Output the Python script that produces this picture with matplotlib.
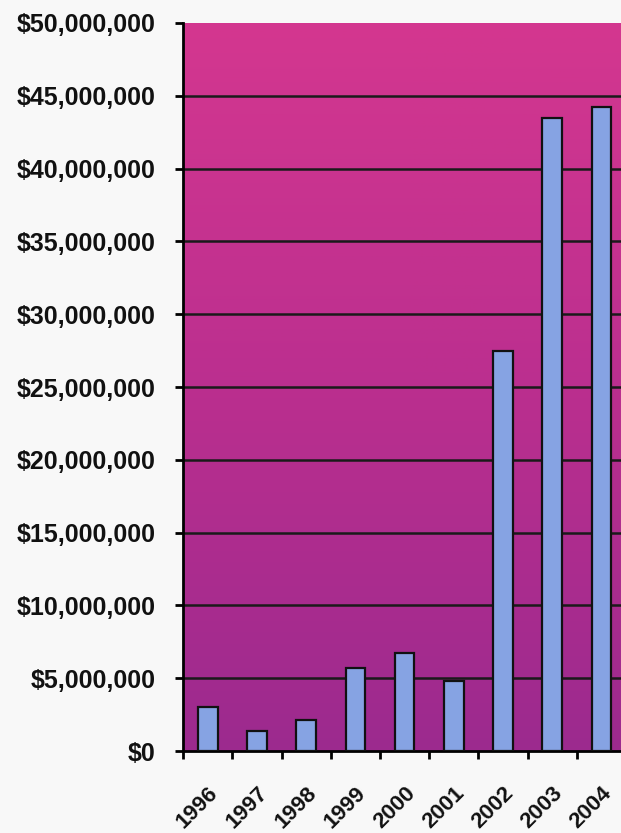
import matplotlib.pyplot as plt
import matplotlib.transforms as mtransforms
import numpy as np
from matplotlib.colors import LinearSegmentedColormap

plt.rcParams['font.family'] = ['Liberation Sans', 'DejaVu Sans']

years = ['1996', '1997', '1998', '1999', '2000', '2001', '2002', '2003', '2004']
amounts = [3.0e6, 1.4e6, 2.15e6, 5.7e6, 6.7e6, 4.8e6, 27.5e6, 43.5e6, 44.2e6]
yticks = np.arange(0, 50e6 + 1, 5e6)

fig = plt.figure(figsize=(6.21, 8.33), dpi=100)
fig.patch.set_facecolor('#f8f8f8')
ax = fig.add_axes([0.295, 0.0984, 0.713, 0.8740])

# magenta to purple background gradient
cmap = LinearSegmentedColormap.from_list('bg', ['#9c2a8e', '#bb2f8f', '#d4378f'])
grad = np.linspace(0, 1, 256).reshape(-1, 1)
ax.imshow(grad, aspect='auto', cmap=cmap, origin='lower',
          extent=[-0.5, 8.5, 0, 50e6], zorder=0)

x = np.arange(len(years))
ax.bar(x, amounts, width=0.4, color='#86a3e3', edgecolor='#111111',
       linewidth=1.6, zorder=3)

for v in yticks[1:-1]:
    ax.axhline(v, color='#1a1a1a', linewidth=1.8, zorder=2)

ax.set_xlim(-0.5, 8.5)
ax.set_ylim(0, 50e6)
ax.set_yticks(yticks)
ax.set_yticklabels(['${:,.0f}'.format(v) for v in yticks],
                   fontsize=18, fontweight='bold', color='#111111')

ax.set_xticks(np.arange(-0.5, 8.6, 1))
ax.set_xticklabels([])
ax.set_xticks(x, minor=True)
labs = ax.set_xticklabels(years, minor=True, rotation=45, ha='right',
                          va='top', rotation_mode='anchor', fontsize=16,
                          fontweight='bold', color='#111111')
shift = mtransforms.ScaledTranslation(-8 / 100, 0, fig.dpi_scale_trans)
for t in labs:
    t.set_transform(t.get_transform() + shift)
ax.tick_params(axis='x', which='minor', length=0, pad=23)
ax.tick_params(axis='x', which='major', length=6, width=2, direction='out')
ax.tick_params(axis='y', length=6, width=2, direction='out', pad=14)

for s in ['top', 'right']:
    ax.spines[s].set_visible(False)
ax.spines['left'].set_linewidth(2)
ax.spines['bottom'].set_linewidth(2)

plt.savefig('out.png', dpi=100, facecolor=fig.get_facecolor())
